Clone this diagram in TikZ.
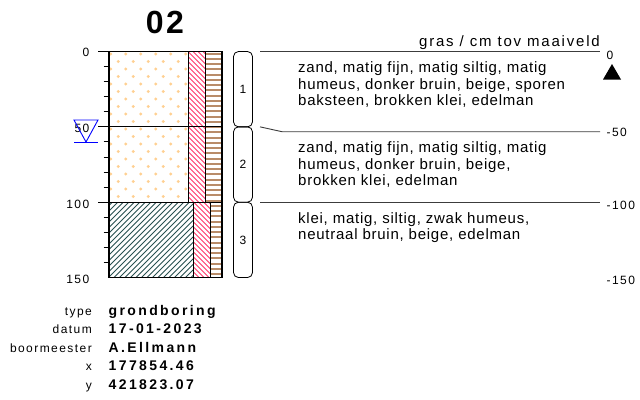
\documentclass[tikz,border=0pt]{standalone}
\usepackage{fontspec}
\setmainfont{Liberation Sans}
\newfontfamily\bodyf[LetterSpace=5]{Liberation Sans}
\newfontfamily\hdrf[LetterSpace=12]{Liberation Sans}
\newfontfamily\axisf[LetterSpace=12]{Liberation Sans}
\newfontfamily\valf[LetterSpace=17]{Liberation Sans}
\newfontfamily\titf[LetterSpace=8]{Liberation Sans}
\definecolor{sanddot}{RGB}{255,208,145}
\definecolor{hatchred}{RGB}{255,55,105}
\definecolor{tanline}{RGB}{185,140,105}
\definecolor{clayc}{RGB}{40,80,80}
\definecolor{linegray}{RGB}{60,60,60}
\tikzset{
  bodytxt/.style={font=\bodyf\fontsize{15}{17}\selectfont, inner sep=0pt, anchor=base west},
  axislbl/.style={font=\axisf\fontsize{12}{14}\selectfont, inner sep=0pt},
  infolbl/.style={font=\axisf\fontsize{12}{14}\selectfont, inner sep=0pt, anchor=base east},
  infoval/.style={font=\valf\bfseries\fontsize{14}{16}\selectfont, inner sep=0pt, anchor=base west},
  boxnum/.style={font=\axisf\fontsize{12}{14}\selectfont, inner sep=0pt},
  laybox/.style={draw=black, line width=0.8pt, rounded corners=5pt},
  sepline/.style={linegray, line width=0.9pt},
}
\begin{document}
\begin{tikzpicture}[x=1pt,y=-1pt]
\useasboundingbox (0,0) rectangle (640,399);

% title
\node[font=\titf\bfseries\fontsize{32}{34}\selectfont, inner sep=0pt] (title) at (165,22.5) {02};

% ---- patterns ----
% sand dots (layers 1 and 2)
\begin{scope}
  \clip (109,51.5) rectangle (188,202.2);
  \foreach \r in {0,...,20} {
    \pgfmathsetmacro\yy{54+7.5*\r}
    \pgfmathsetmacro\xo{110.7+7.5*mod(\r,2)}
    \foreach \c in {0,...,5}
      \fill[sanddot] (\xo+15*\c,\yy) circle (1.6pt);
  }
\end{scope}
% red hatch layers 1-2
\begin{scope}
  \clip (188,51.5) rectangle (205,202.2);
  \foreach \k in {-5,...,36}
    \draw[hatchred, line width=0.9pt] (188,31.5+5*\k) -- ++(40,40);
\end{scope}
% red hatch layer 3
\begin{scope}
  \clip (193.5,202.2) rectangle (210.5,277.55);
  \foreach \k in {-5,...,20}
    \draw[hatchred, line width=0.9pt] (193.5,182+5*\k) -- ++(40,40);
\end{scope}
% brown horizontal lines
\begin{scope}
  \clip (205,51.5) rectangle (222,202.2);
  \foreach \k in {0,...,29}
    \draw[tanline, line width=2pt] (205,53.5+5.25*\k) -- (222,53.5+5.25*\k);
\end{scope}
\begin{scope}
  \clip (210.5,202.2) rectangle (222,277.55);
  \foreach \k in {28,...,43}
    \draw[tanline, line width=2pt] (210.5,53.5+5.25*\k) -- (222,53.5+5.25*\k);
\end{scope}
% clay hatch
\begin{scope}
  \clip (109,202.2) rectangle (193.5,277.55);
  \foreach \k in {0,...,32}
    \draw[clayc, line width=0.9pt] (29+5.5*\k,280) -- ++(100,-100);
\end{scope}

% ---- column outline ----
\draw[line width=0.9pt] (188,51.5) -- (188,202.2) (205,51.5) -- (205,202.2);
\draw[line width=0.9pt] (193.5,202.2) -- (193.5,277.55) (210.5,202.2) -- (210.5,277.55);
\draw[line width=1pt] (98,51.5) -- (109,51.5) (98,126.85) -- (222,126.85) (98,202.2) -- (222,202.2);
\foreach \d in {10,20,30,40,60,70,80,90,110,120,130,140}
  \draw[line width=0.9pt] (103.5,51.5+1.507*\d) -- (109,51.5+1.507*\d);
\draw[line width=1.3pt] (109,51.5) rectangle (222,277.55);

% depth labels left
\node[axislbl, anchor=east] (l0) at (89.5,52.5) {0};
\node[axislbl, anchor=east] (l50) at (89.5,128) {50};
\node[axislbl, anchor=east] (l100) at (89.5,204) {100};
\node[axislbl, anchor=east] (l150) at (89.5,279) {150};

% water level
\draw[blue, line width=0.9pt] (74,120) -- (98,120) -- (86,142) -- cycle;
\draw[blue, line width=0.9pt] (74,142) -- (98,142);

% layer number boxes
\draw[laybox] (233.5,51.5) rectangle (252.5,126.85);
\draw[laybox] (233.5,126.85) rectangle (252.5,202.2);
\draw[laybox] (233.5,202.2) rectangle (252.5,277.55);
\node[boxnum] (n1) at (243,89.2) {1};
\node[boxnum] (n2) at (243,164.5) {2};
\node[boxnum] (n3) at (243,239.9) {3};

% right side lines
\draw[sepline] (260,51.7) -- (600,51.7);
\draw[sepline] (260,126.85) -- (282,131.7) -- (600,131.7);
\draw[sepline] (260,202.2) -- (600,202.2);

\node[font=\hdrf\fontsize{15}{17}\selectfont, inner sep=0pt, anchor=base east] (hdr) at (600,46.7) {gras / cm tov maaiveld};
\node[axislbl, anchor=west] (r0) at (606.5,55.5) {0};
\node[axislbl, anchor=west] (r50) at (606.5,132.7) {-50};
\node[axislbl, anchor=west] (r100) at (606.5,205) {-100};
\node[axislbl, anchor=west] (r150) at (606.5,280) {-150};
\fill (603,79.5) -- (621,79.5) -- (612,64) -- cycle;

% descriptions
\node[bodytxt] (d1a) at (298,72.5) {zand, matig fijn, matig siltig, matig};
\node[bodytxt] (d1b) at (298,89.2) {humeus, donker bruin, beige, sporen};
\node[bodytxt] (d1c) at (298,105.9) {baksteen, brokken klei, edelman};
\node[bodytxt] (d2a) at (298,152.5) {zand, matig fijn, matig siltig, matig};
\node[bodytxt] (d2b) at (298,169.2) {humeus, donker bruin, beige,};
\node[bodytxt] (d2c) at (298,185.9) {brokken klei, edelman};
\node[bodytxt] (d3a) at (298,223.2) {klei, matig, siltig, zwak humeus,};
\node[bodytxt] (d3b) at (298,239.9) {neutraal bruin, beige, edelman};

% info block
\node[infolbl] (k1) at (92,315) {type};
\node[infolbl] (k2) at (92,333.5) {datum};
\node[infolbl] (k3) at (92,352) {boormeester};
\node[infolbl] (k4) at (92,370.5) {x};
\node[infolbl] (k5) at (92,389) {y};
\node[infoval] (v1) at (108.5,315) {grondboring};
\node[infoval] (v2) at (108.5,333.5) {17-01-2023};
\node[infoval] (v3) at (108.5,352) {A.Ellmann};
\node[infoval] (v4) at (108.5,370.5) {177854.46};
\node[infoval] (v5) at (108.5,389) {421823.07};
\end{tikzpicture}
\end{document}
